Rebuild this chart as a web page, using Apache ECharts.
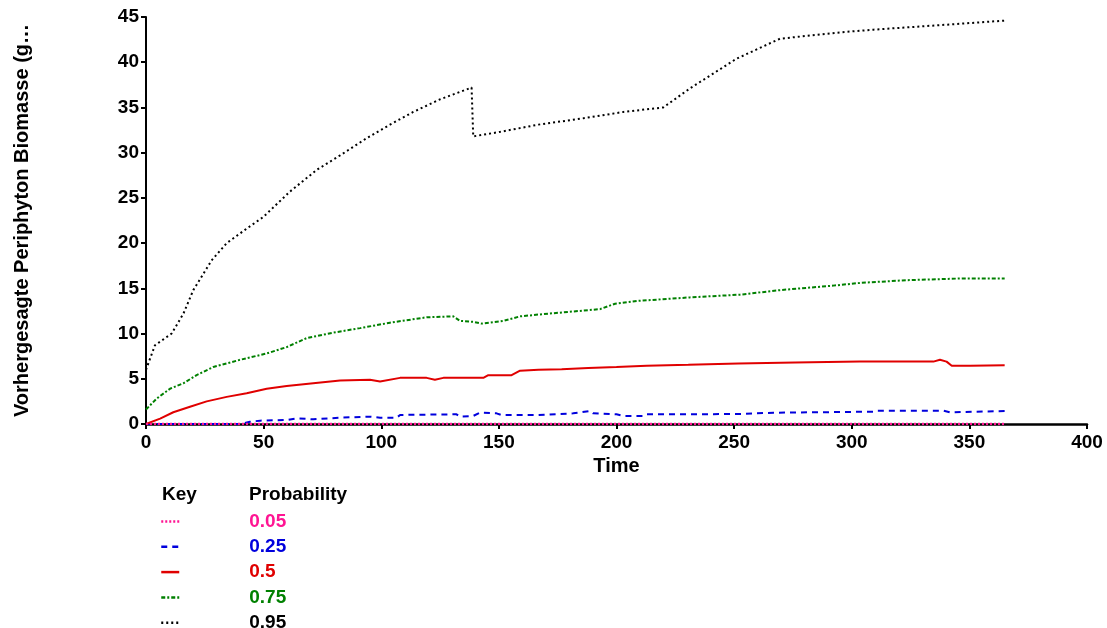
<!DOCTYPE html>
<html><head><meta charset="utf-8">
<script src="https://cdn.jsdelivr.net/npm/echarts@6/dist/echarts.min.js"></script>
<style>html,body{margin:0;padding:0;background:#fff}#c{width:1107px;height:628px}</style>
</head><body><div id="c"></div>
<script>
const seriesNames = ['0.05','0.25','0.5','0.75','0.95'];
const xTicks = [0,50,100,150,200,250,300,350,400];
const yTicks = [0,5,10,15,20,25,30,35,40,45];

const p05T = [0, 365];
const p05V = [0, 0];

const p25T = [0,40,44.2,48.5,59.8,64,71.1,82.5,95.2,99.5,106.6,108,132,133.5,139,141.9,149,151.1,166.8,181.6,188.7,190.1,200,202.9,211.4,212.8,252.5,266.7,309.2,310.6,338.9,341.8,365];
const p25V = [0,0,0.25,0.37,0.44,0.63,0.52,0.7,0.81,0.7,0.7,1.0,1.07,0.81,0.88,1.25,1.18,1.0,1.0,1.18,1.44,1.18,1.07,0.88,0.88,1.07,1.1,1.25,1.36,1.47,1.47,1.29,1.44];

const p50T = [0,6,11.6,18.7,25.8,34.3,42.8,51.3,59.8,71.1,82.5,95.2,99.5,108,119.3,122.8,126.4,137.7,143.4,145.5,155.4,159,166.8,176.7,188,200,212.8,230.5,251.8,275.9,303.5,334.7,337.5,340.3,342.5,350.3,351,365];
const p50V = [0,0.6,1.3,1.9,2.5,3.0,3.4,3.9,4.2,4.5,4.8,4.9,4.7,5.1,5.1,4.9,5.1,5.1,5.1,5.4,5.4,5.9,6.0,6.05,6.2,6.3,6.45,6.55,6.7,6.8,6.9,6.9,7.1,6.9,6.45,6.45,6.5,6.5];

const p75T = [0,4.5,10.2,15.9,21.5,28.6,40,51.3,59.8,68.3,79.6,91,103.7,119.3,130.6,133.5,139.1,142.7,151.9,159,166.8,193,199.4,208.6,231.2,252.5,269.5,292.2,303.5,323.4,347.4,365];
const p75V = [1.6,2.8,3.9,4.5,5.4,6.3,7.1,7.8,8.5,9.5,10.1,10.6,11.2,11.8,11.9,11.4,11.3,11.1,11.4,11.9,12.1,12.7,13.3,13.6,14.0,14.3,14.8,15.3,15.6,15.9,16.1,16.1];

const p95T = [0,3.8,10.9,15.9,20.1,27.9,34.3,42.8,49.9,61.2,72.6,82.5,93.8,103.7,113.6,125,138.4,139.1,150.5,166.8,185.9,202.9,219.9,231.2,251.1,269.5,295,309.2,337.5,365];
const p95V = [6.0,8.7,10.0,12.2,14.8,18.1,20.0,21.6,22.9,25.7,28.1,29.7,31.6,33.1,34.5,35.9,37.2,31.8,32.3,33.1,33.8,34.5,35.0,37.1,40.4,42.6,43.3,43.6,44.1,44.6];

const colors = ['#ff1493','#0000dd','#e00000','#008000','#000000'];
const dashes = [[2,2],[6,5],'solid',[4,2,2,2],[2,3]];
const widths = [2.5,2,2,2,2];
const allT = [p05T,p25T,p50T,p75T,p95T];
const allV = [p05V,p25V,p50V,p75V,p95V];

const chart = echarts.init(document.getElementById('c'));
const font = 'Liberation Sans, Arial, sans-serif';
const series = seriesNames.map((n,i)=>({
  name:n, type:'line', symbol:'none', showSymbol:false,
  data: allT[i].map((t,j)=>[t, allV[i][j]]),
  lineStyle:{color:colors[i], width:widths[i], type:dashes[i]},
  itemStyle:{color:colors[i]},
  z: i===0 ? 5 : 3,
  animation:false
}));
chart.setOption({
  animation:false,
  backgroundColor:'#fff',
  grid:{left:146, right:20, top:17, bottom:204, containLabel:false},
  xAxis:{type:'value', min:0, max:400, interval:50, name:'Time', nameLocation:'middle', nameGap:31,
    nameTextStyle:{fontFamily:font, fontWeight:'bold', fontSize:20, color:'#000'},
    axisLine:{lineStyle:{color:'#000', width:2.5}}, axisTick:{length:5, lineStyle:{color:'#000', width:2}},
    axisLabel:{fontFamily:font, fontWeight:'bold', fontSize:19, color:'#000', margin:9},
    splitLine:{show:false}},
  yAxis:{type:'value', min:0, max:45, interval:5, name:'Vorhergesagte Periphyton Biomasse (g…', nameLocation:'middle', nameGap:114,
    nameTextStyle:{fontFamily:font, fontWeight:'bold', fontSize:20, color:'#000'},
    axisLine:{onZero:false, lineStyle:{color:'#000', width:2}}, axisTick:{length:5, lineStyle:{color:'#000', width:2}},
    axisLabel:{fontFamily:font, fontWeight:'bold', fontSize:19, color:'#000', margin:7},
    splitLine:{show:false}},
  legend:{orient:'vertical', left:160, top:512, height:140, padding:0, itemWidth:18, itemHeight:10, itemGap:6.3,
    itemStyle:{opacity:0},
    lineStyle:{width:2.5},
    data: seriesNames.map((n,i)=>({name:n, textStyle:{color:colors[i]}})),
    textStyle:{fontFamily:font, fontWeight:'bold', fontSize:19, padding:[0,0,0,65]},
    selectedMode:false},
  graphic:[
    {type:'text', left:162, top:485, style:{text:'Key', font:'bold 19px '+font, fill:'#000'}},
    {type:'text', left:249, top:485, style:{text:'Probability', font:'bold 19px '+font, fill:'#000'}}
  ],
  series: series
});
</script></body></html>
